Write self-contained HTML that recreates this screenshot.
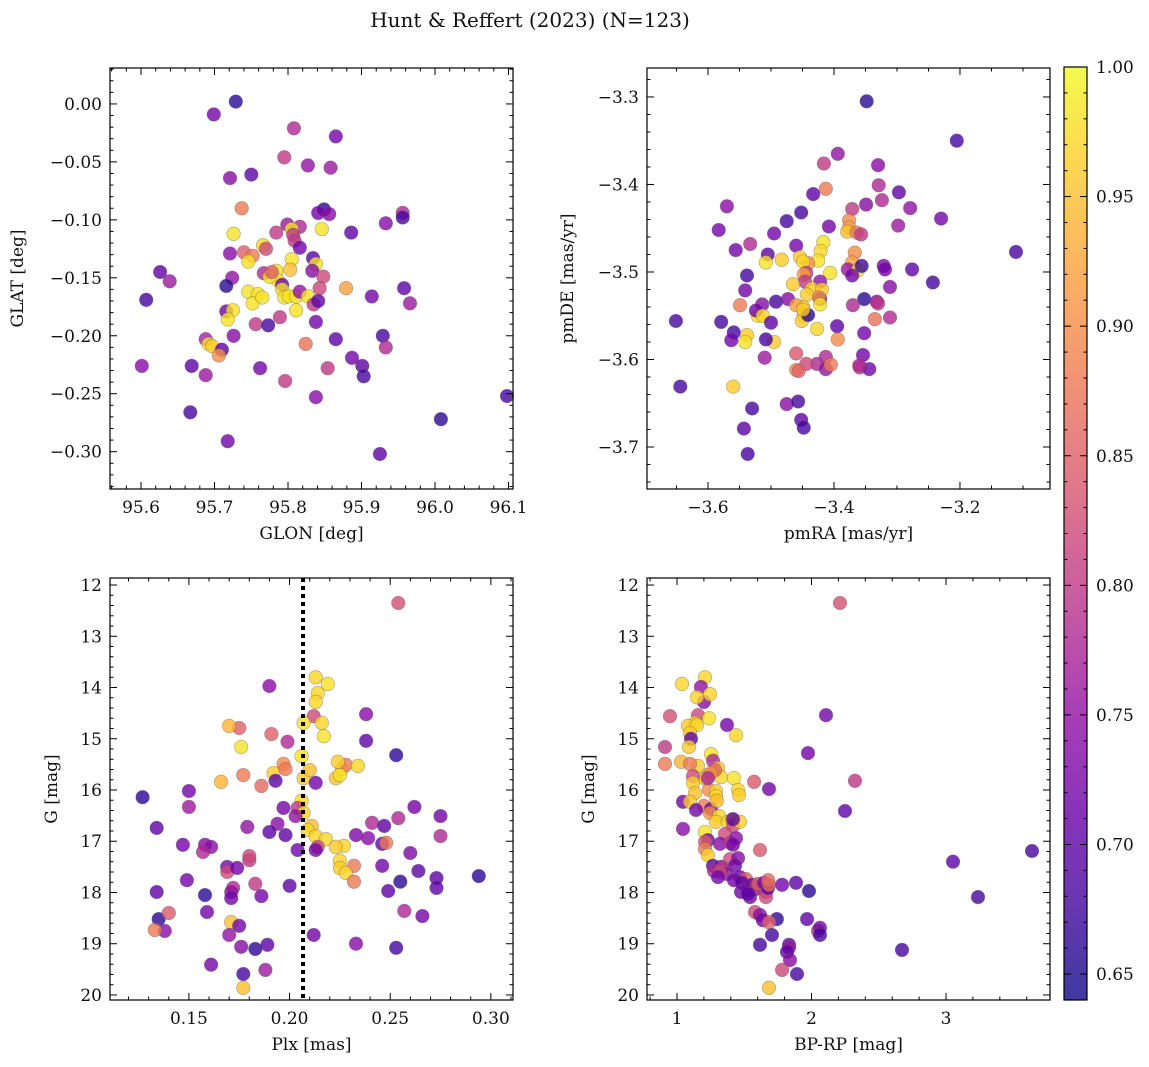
<!DOCTYPE html>
<html><head><meta charset="utf-8"><style>
html,body{margin:0;padding:0;background:#fff}
svg{display:block;font-family:"DejaVu Serif","Liberation Serif",serif}
</style></head><body>
<svg id="fig" width="1149" height="1067" viewBox="0 0 1149 1067" xmlns="http://www.w3.org/2000/svg">
<text x="530" y="27" font-size="20" text-anchor="middle" fill="#111">Hunt &amp; Reffert (2023) (N=123)</text>
</svg>
<script>
// ---- Panel 1: GLON vs GLAT ----
const glon=[95.729,95.699,95.808,95.865,95.795,95.827,95.858,95.750,95.721,95.737,95.849,95.841,95.856,95.956,95.956,95.799,95.933,95.816,95.846,95.805,95.807,95.886,95.726,95.809,95.784,95.766,95.721,95.740,95.752,95.770,95.746,95.724,95.626,95.639,95.607,95.767,95.784,95.834,95.838,95.816,95.805,95.803,95.786,95.775,95.792,95.778,95.833,95.848,95.843,95.879,95.746,95.759,95.752,95.765,95.792,95.795,95.801,95.811,95.816,95.827,95.835,95.811,95.841,95.838,95.716,95.716,95.725,95.718,95.756,95.773,95.789,95.824,95.865,95.688,95.692,95.697,95.710,95.706,95.726,95.887,95.901,95.903,95.929,95.933,95.914,95.958,95.966,95.601,95.669,95.688,95.762,95.796,95.854,95.667,95.838,95.718,95.925,96.008,96.098];
const glat=[0.002,-0.009,-0.021,-0.028,-0.046,-0.053,-0.055,-0.061,-0.064,-0.090,-0.091,-0.094,-0.095,-0.094,-0.098,-0.104,-0.103,-0.106,-0.108,-0.108,-0.113,-0.111,-0.112,-0.118,-0.111,-0.122,-0.129,-0.128,-0.131,-0.125,-0.136,-0.150,-0.145,-0.153,-0.169,-0.146,-0.144,-0.133,-0.138,-0.124,-0.134,-0.143,-0.152,-0.149,-0.156,-0.145,-0.144,-0.149,-0.159,-0.159,-0.162,-0.164,-0.172,-0.167,-0.160,-0.167,-0.166,-0.166,-0.162,-0.166,-0.173,-0.178,-0.170,-0.188,-0.157,-0.179,-0.178,-0.186,-0.190,-0.191,-0.184,-0.207,-0.203,-0.203,-0.207,-0.209,-0.212,-0.217,-0.200,-0.219,-0.226,-0.235,-0.200,-0.210,-0.166,-0.159,-0.172,-0.226,-0.226,-0.234,-0.228,-0.239,-0.228,-0.266,-0.253,-0.291,-0.302,-0.272,-0.252];
const prob1=[.66,.72,.78,.72,.8,.75,.76,.7,.74,.88,.66,.72,.74,.78,.68,.76,.74,.78,.98,.98,.8,.7,.98,.8,.8,.97,.74,.85,.88,.82,.98,.75,.7,.76,.68,.78,.98,.7,.98,.72,.98,.95,.98,.98,.72,.85,.74,.82,.82,.92,.98,.98,.98,.98,.98,.98,.98,.98,.75,.98,.8,.98,.7,.72,.66,.72,.98,.98,.8,.68,.8,.87,.7,.77,.98,.96,.7,.9,.74,.72,.7,.68,.68,.78,.72,.7,.76,.74,.7,.76,.72,.8,.8,.68,.74,.72,.7,.66,.68];
// ---- Panel 2: pmRA vs pmDE ----
const pmra=[-3.348,-3.205,-3.330,-3.394,-3.416,-3.413,-3.433,-3.329,-3.297,-3.324,-3.279,-3.570,-3.349,-3.371,-3.452,-3.475,-3.408,-3.230,-3.376,-3.376,-3.379,-3.364,-3.495,-3.417,-3.583,-3.533,-3.298,-3.357,-3.556,-3.460,-3.505,-3.421,-3.425,-3.441,-3.508,-3.483,-3.454,-3.449,-3.367,-3.371,-3.321,-3.319,-3.378,-3.444,-3.448,-3.406,-3.362,-3.356,-3.276,-3.243,-3.311,-3.352,-3.370,-3.332,-3.371,-3.422,-3.446,-3.465,-3.435,-3.538,-3.541,-3.443,-3.419,-3.449,-3.448,-3.422,-3.492,-3.473,-3.424,-3.549,-3.514,-3.521,-3.460,-3.422,-3.524,-3.330,-3.335,-3.451,-3.513,-3.579,-3.559,-3.441,-3.427,-3.395,-3.563,-3.538,-3.495,-3.449,-3.651,-3.541,-3.500,-3.508,-3.352,-3.354,-3.394,-3.460,-3.427,-3.413,-3.413,-3.405,-3.444,-3.359,-3.510,-3.560,-3.460,-3.456,-3.344,-3.530,-3.475,-3.457,-3.452,-3.448,-3.644,-3.543,-3.537,-3.360,-3.311,-3.111];
const pmde=[-3.305,-3.350,-3.378,-3.365,-3.376,-3.405,-3.411,-3.401,-3.409,-3.418,-3.427,-3.425,-3.423,-3.428,-3.432,-3.442,-3.448,-3.439,-3.441,-3.449,-3.454,-3.455,-3.456,-3.466,-3.452,-3.468,-3.447,-3.457,-3.475,-3.470,-3.480,-3.476,-3.487,-3.490,-3.489,-3.486,-3.483,-3.488,-3.478,-3.489,-3.493,-3.497,-3.497,-3.501,-3.503,-3.501,-3.498,-3.493,-3.497,-3.512,-3.517,-3.531,-3.538,-3.534,-3.504,-3.511,-3.511,-3.514,-3.519,-3.504,-3.521,-3.526,-3.520,-3.540,-3.550,-3.531,-3.534,-3.531,-3.529,-3.538,-3.537,-3.550,-3.538,-3.537,-3.544,-3.536,-3.554,-3.556,-3.550,-3.557,-3.569,-3.549,-3.565,-3.562,-3.578,-3.572,-3.580,-3.543,-3.556,-3.580,-3.558,-3.577,-3.570,-3.595,-3.577,-3.593,-3.605,-3.611,-3.597,-3.606,-3.605,-3.609,-3.598,-3.631,-3.612,-3.613,-3.611,-3.656,-3.651,-3.648,-3.669,-3.678,-3.631,-3.679,-3.708,-3.607,-3.552,-3.477];
const prob2=[.66,.68,.74,.75,.8,.88,.7,.78,.7,.78,.75,.74,.74,.8,.68,.68,.72,.72,.9,.92,.95,.88,.72,.98,.72,.78,.76,.8,.72,.72,.7,.97,.98,.9,.98,.96,.96,.97,.9,.92,.73,.72,.76,.8,.92,.98,.98,.67,.7,.68,.74,.66,.78,.74,.72,.75,.8,.96,.96,.68,.72,.96,.96,.96,.96,.72,.68,.74,.9,.88,.74,.98,.92,.98,.72,.8,.87,.96,.97,.68,.68,.66,.97,.7,.72,.96,.96,.96,.68,.98,.7,.68,.72,.72,.9,.84,.78,.75,.78,.88,.82,.8,.76,.96,.9,.85,.72,.68,.74,.68,.7,.68,.68,.7,.68,.78,.78,.68];
// ---- Panel 3: Plx vs G ----
const plx=[0.254,0.213,0.214,0.219,0.213,0.190,0.212,0.216,0.217,0.207,0.206,0.175,0.170,0.176,0.238,0.238,0.191,0.199,0.207,0.210,0.223,0.226,0.228,0.225,0.234,0.224,0.197,0.192,0.198,0.186,0.177,0.166,0.193,0.213,0.253,0.206,0.204,0.207,0.203,0.197,0.211,0.209,0.194,0.179,0.190,0.150,0.150,0.127,0.134,0.213,0.218,0.214,0.213,0.241,0.233,0.247,0.254,0.262,0.239,0.246,0.248,0.275,0.260,0.227,0.223,0.204,0.198,0.275,0.147,0.158,0.161,0.157,0.169,0.180,0.180,0.169,0.174,0.232,0.225,0.225,0.228,0.232,0.255,0.246,0.264,0.273,0.249,0.294,0.273,0.183,0.172,0.171,0.186,0.200,0.158,0.149,0.171,0.134,0.135,0.159,0.212,0.171,0.175,0.170,0.138,0.257,0.266,0.233,0.183,0.189,0.176,0.253,0.161,0.177,0.188,0.177,0.140,0.133];
const gmag3=[12.35,13.80,14.11,13.93,14.28,13.97,14.56,14.69,14.95,14.69,15.34,14.79,14.75,15.16,15.04,14.52,14.91,15.06,15.77,15.61,15.77,15.59,15.51,15.71,15.53,15.45,15.49,15.67,15.59,15.92,15.71,15.84,15.82,15.86,15.32,16.21,16.35,16.45,16.51,16.35,16.70,16.78,16.66,16.72,16.82,16.02,16.33,16.14,16.74,16.90,16.96,17.11,17.17,16.64,16.88,16.70,16.55,16.33,16.94,17.05,17.03,16.51,17.23,17.09,17.11,17.17,16.88,16.90,17.07,17.07,17.11,17.21,17.50,17.37,17.29,17.60,17.52,17.48,17.38,17.52,17.62,17.79,17.79,17.48,17.58,17.72,17.97,17.68,17.91,17.83,17.91,17.99,18.07,17.87,18.05,17.76,18.11,17.99,18.52,18.38,18.83,18.58,18.65,18.83,18.75,18.36,18.46,19.00,19.10,19.02,19.06,19.08,19.41,19.59,19.51,19.86,18.40,18.73];
const prob3=[.83,.97,.97,.98,.97,.74,.82,.97,.98,.98,.98,.85,.94,.98,.7,.74,.85,.78,.96,.95,.95,.96,.88,.98,.97,.96,.9,.96,.88,.86,.88,.94,.7,.72,.66,.97,.8,.97,.75,.72,.95,.97,.74,.75,.7,.72,.76,.66,.7,.97,.97,.82,.72,.78,.73,.7,.78,.72,.74,.7,.88,.72,.73,.97,.96,.72,.7,.78,.72,.74,.74,.78,.72,.8,.82,.82,.72,.88,.97,.96,.97,.88,.66,.72,.7,.7,.7,.66,.7,.8,.78,.75,.72,.7,.66,.72,.72,.7,.66,.72,.72,.95,.72,.75,.74,.78,.72,.74,.66,.7,.74,.68,.72,.68,.76,.95,.84,.88];
// ---- Panel 4: BP-RP vs G ----
const bprp=[2.212,1.208,1.037,1.178,1.201,1.245,1.149,2.108,1.156,1.238,1.134,1.082,0.948,1.149,1.097,1.104,1.372,1.439,0.911,1.089,1.253,1.268,1.030,1.156,1.305,1.327,1.230,1.208,1.238,1.097,1.283,0.911,1.974,1.119,1.119,1.424,1.454,1.573,1.253,1.230,1.290,1.290,1.045,1.134,1.097,1.201,1.253,1.045,1.297,1.461,1.684,2.323,1.141,1.245,1.312,1.290,1.379,1.409,1.416,1.208,1.357,1.468,1.416,1.230,1.320,1.394,1.439,1.416,1.208,2.249,1.208,1.230,1.394,1.454,1.431,1.617,1.327,1.268,1.275,1.335,1.372,1.320,1.305,1.468,1.513,1.424,1.483,1.558,1.617,1.528,1.587,1.543,1.602,1.647,1.662,1.662,1.677,1.684,1.677,1.476,1.528,1.781,1.885,1.981,3.639,3.052,3.238,1.580,1.617,1.639,1.743,1.967,1.684,1.706,2.048,2.063,2.063,1.617,1.833,1.833,1.818,1.840,1.781,1.892,1.684,2.673];
const gmag4=[12.35,13.80,13.93,13.99,14.28,14.13,14.19,14.54,14.54,14.60,14.69,14.75,14.56,14.73,14.89,15.00,14.73,14.93,15.16,15.16,15.30,15.43,15.45,15.53,15.57,15.75,15.71,15.78,16.00,15.49,15.61,15.49,15.28,15.73,15.86,15.77,16.00,15.84,15.67,15.77,16.02,16.12,16.23,16.06,16.23,16.31,16.37,16.76,16.21,16.10,15.98,15.82,16.39,16.45,16.51,16.62,16.62,16.58,16.70,16.82,16.86,16.62,16.57,16.98,17.05,17.03,16.94,17.07,17.01,16.41,17.15,17.27,17.35,17.33,17.48,17.17,17.50,17.48,17.58,17.52,17.64,17.60,17.70,17.70,17.74,17.76,17.81,17.85,17.91,17.97,17.93,18.09,17.83,17.81,17.99,18.09,17.91,17.85,17.76,17.99,18.03,17.85,17.81,17.97,17.19,17.40,18.09,18.38,18.44,18.54,18.52,18.52,18.58,18.83,18.75,18.69,18.83,19.02,19.02,19.08,19.16,19.32,19.51,19.59,19.86,19.12];
const prob4=[.83,.97,.97,.75,.74,.97,.97,.72,.82,.98,.98,.96,.83,.97,.96,.7,.72,.97,.8,.96,.98,.78,.94,.96,.96,.97,.95,.95,.9,.88,.86,.88,.72,.82,.96,.98,.97,.84,.9,.78,.96,.97,.72,.95,.96,.88,.72,.74,.95,.96,.72,.8,.72,.9,.97,.96,.97,.98,.82,.98,.82,.96,.7,.72,.74,.8,.74,.72,.84,.7,.88,.96,.82,.74,.72,.84,.72,.7,.78,.8,.74,.82,.72,.72,.85,.72,.7,.72,.86,.74,.78,.72,.84,.72,.8,.82,.7,.86,.86,.72,.7,.72,.7,.66,.68,.7,.68,.82,.74,.72,.66,.7,.85,.68,.8,.72,.68,.68,.7,.76,.7,.74,.82,.68,.95,.68];
// ---- Colorbar ----
const cbTicks=[0.65,0.70,0.75,0.80,0.85,0.90,0.95,1.00];
const cbTickLabels=["0.65","0.70","0.75","0.80","0.85","0.90","0.95","1.00"];
const vmin=0.640, vmax=1.0;
const vlineValue=0.2067;

const NS="http://www.w3.org/2000/svg";
const svg=document.getElementById('fig');
function mk(tag,attrs,parent){const e=document.createElementNS(NS,tag);for(const k in attrs)e.setAttribute(k,attrs[k]);(parent||svg).appendChild(e);return e;}
const stops=[[0,[13,8,135]],[0.1,[65,4,157]],[0.2,[106,0,168]],[0.3,[143,13,164]],[0.4,[177,42,144]],[0.5,[204,71,120]],[0.6,[225,100,98]],[0.7,[242,132,75]],[0.8,[252,166,54]],[0.9,[252,206,37]],[1,[240,249,33]]];
function plasma(t){t=Math.max(0,Math.min(1,t));for(let i=1;i<stops.length;i++){if(t<=stops[i][0]){const a=stops[i-1],b=stops[i];const f=(t-a[0])/(b[0]-a[0]);const c=a[1].map((v,j)=>Math.round(v+(b[1][j]-v)*f));return `rgb(${c[0]},${c[1]},${c[2]})`;}}return 'rgb(240,249,33)';}
function cval(p){return plasma((p-vmin)/(vmax-vmin));}
function fmt(v,d){let s=Math.abs(v).toFixed(d);return (v<-1e-9?'\u2212':'')+s;}
const FS=17;

function panel(cfg){
  const g=mk('g',{});
  
  
  const {L,T,R,B,x0,x1,y0,y1}=cfg;
  const sx=v=>L+(v-x0)/(x1-x0)*(R-L);
  const sy=v=>B-(v-y0)/(y1-y0)*(B-T);
  const pg=mk('g',{},g);
  
  
  for(let i=0;i<cfg.xs.length;i++){
    const c=mk('circle',{cx:sx(cfg.xs[i]).toFixed(1),cy:sy(cfg.ys[i]).toFixed(1),r:6.8,fill:cval(cfg.ps[i]),'fill-opacity':0.8,stroke:'rgba(90,90,90,0.45)','stroke-width':0.7},pg);
    
    
  }
  if(cfg.vline!==undefined){
    const l=mk('line',{x1:sx(cfg.vline),x2:sx(cfg.vline),y1:T,y2:B,stroke:'#000','stroke-width':4,'stroke-dasharray':'4,4'},g);
    
    
  }
  const fr=mk('rect',{x:L,y:T,width:R-L,height:B-T,fill:'none',stroke:'#000','stroke-width':1.2},g);
  
  
  const lo=Math.min(x0,x1),hi=Math.max(x0,x1);
  for(let k=Math.ceil(lo/cfg.xmin-1e-6);k*cfg.xmin<=hi+1e-9;k++){
    const v=k*cfg.xmin;const px=sx(v);const major=Math.abs(v/cfg.xmaj-Math.round(v/cfg.xmaj))<1e-6;const len=major?7:3.5;
    mk('line',{x1:px,x2:px,y1:B,y2:B-len,stroke:'#000','stroke-width':1},g);
    mk('line',{x1:px,x2:px,y1:T,y2:T+len,stroke:'#000','stroke-width':1},g);
    if(major){const t=mk('text',{x:px,y:B+24,'font-size':FS,'text-anchor':'middle',fill:'#111'},g);t.textContent=fmt(v,cfg.xd);}
  }
  const ylo=Math.min(y0,y1),yhi=Math.max(y0,y1);
  for(let k=Math.ceil(ylo/cfg.ymin-1e-6);k*cfg.ymin<=yhi+1e-9;k++){
    const v=k*cfg.ymin;const py=sy(v);const major=Math.abs(v/cfg.ymaj-Math.round(v/cfg.ymaj))<1e-6;const len=major?7:3.5;
    mk('line',{x1:L,x2:L+len,y1:py,y2:py,stroke:'#000','stroke-width':1},g);
    mk('line',{x1:R,x2:R-len,y1:py,y2:py,stroke:'#000','stroke-width':1},g);
    if(major){const t=mk('text',{x:L-8,y:py+6,'font-size':FS,'text-anchor':'end',fill:'#111'},g);t.textContent=fmt(v,cfg.yd);}
  }
  const xl=mk('text',{x:(L+R)/2,y:B+50,'font-size':FS,'text-anchor':'middle',fill:'#111'},g);xl.textContent=cfg.xlabel;
  
  const ylx=cfg.ylx, yly=(T+B)/2;
  const yl=mk('text',{x:ylx,y:yly,'font-size':FS,'text-anchor':'middle',fill:'#111',transform:`rotate(-90 ${ylx} ${yly})`},g);yl.textContent=cfg.ylabel;
  
}

panel({name:'glon-glat-panel',L:110,T:68,R:513,B:489,x0:95.5578,x1:96.1061,y0:-0.3322,y1:0.0310,xs:glon,ys:glat,ps:prob1,xmaj:0.1,xmin:0.02,xd:1,ymaj:0.05,ymin:0.01,yd:2,xlabel:'GLON [deg]',ylabel:'GLAT [deg]',ylx:23});
panel({name:'pm-panel',L:647,T:68,R:1050,B:489,x0:-3.6968,x1:-3.0571,y0:-3.7480,y1:-3.2669,xs:pmra,ys:pmde,ps:prob2,xmaj:0.2,xmin:0.05,xd:1,ymaj:0.1,ymin:0.02,yd:1,xlabel:'pmRA [mas/yr]',ylabel:'pmDE [mas/yr]',ylx:573});
panel({name:'plx-g-panel',L:110,T:578,R:513,B:1000,x0:0.1108,x1:0.3110,y0:20.098,y1:11.863,xs:plx,ys:gmag3,ps:prob3,xmaj:0.05,xmin:0.01,xd:2,ymaj:1,ymin:0.2,yd:0,xlabel:'Plx [mas]',ylabel:'G [mag]',ylx:57,vline:vlineValue});
panel({name:'cmd-panel',L:647,T:578,R:1050,B:1000,x0:0.777,x1:3.773,y0:20.098,y1:11.863,xs:bprp,ys:gmag4,ps:prob4,xmaj:1,xmin:0.2,xd:0,ymaj:1,ymin:0.2,yd:0,xlabel:'BP-RP [mag]',ylabel:'G [mag]',ylx:594});

(function(){
  const L=1064,R=1087,T=67,B=1000;
  const g=mk('g',{});
  
  
  const defs=mk('defs',{},g);
  const lg=mk('linearGradient',{id:'cbg',x1:0,y1:1,x2:0,y2:0},defs);
  for(let i=0;i<=20;i++){mk('stop',{offset:i/20,'stop-color':plasma(i/20)},lg);}
  mk('rect',{x:L,y:T,width:R-L,height:B-T,fill:'url(#cbg)','fill-opacity':0.8},g);
  mk('rect',{x:L,y:T,width:R-L,height:B-T,fill:'none',stroke:'#000','stroke-width':1.2},g);
  const sy=v=>B-(v-vmin)/(vmax-vmin)*(B-T);
  for(let k=64;k<=100;k++){const v=k/100;const py=sy(v);const major=k%5===0;const len=major?7:3.5;
    mk('line',{x1:R,x2:R-len,y1:py,y2:py,stroke:'#000','stroke-width':1},g);
    mk('line',{x1:L,x2:L+len,y1:py,y2:py,stroke:'#000','stroke-width':1},g);}
  cbTicks.forEach((v,i)=>{const t=mk('text',{x:R+9,y:sy(v)+6,'font-size':FS,fill:'#111'},g);t.textContent=cbTickLabels[i];});
})();
</script>
</body></html>
